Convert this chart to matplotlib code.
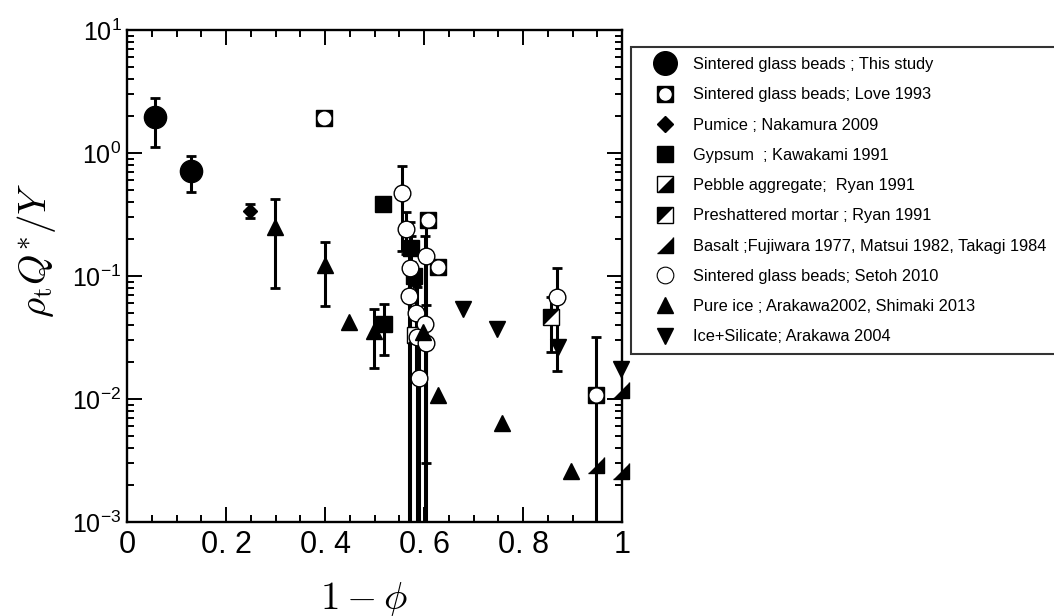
import matplotlib
matplotlib.use('Agg')
import matplotlib.pyplot as plt
import numpy as np
from matplotlib.lines import Line2D
from matplotlib.ticker import FixedLocator, FixedFormatter, MultipleLocator, LogLocator, NullFormatter

plt.rcParams['font.family'] = ['Liberation Sans', 'DejaVu Sans']

# Data (x = 1 - phi, y = rho_t Q*/Y)
study_x = [0.057, 0.129]
study_y = [1.96, 0.71]
study_e = [0.85, 0.23]

love_x = [0.398, 0.608, 0.628, 0.947]
love_y = [1.93, 0.285, 0.118, 0.0108]
love_e = [0.0, 0.0, 0.0, 0.0212]

pumice_x = [0.248]
pumice_y = [0.34]
pumice_e = [0.045]

gypsum_x = [0.517, 0.519, 0.573, 0.580]
gypsum_y = [0.385, 0.041, 0.17, 0.10]
gypsum_e = [0.0, 0.018, 0.04, 0.0]

pebble_x = [0.582]
pebble_y = [0.033]

mortar_x = [0.857]
mortar_y = [0.046]
mortar_e = [0.022]

basalt_x = [0.947, 0.998, 0.998]
basalt_y = [0.0029, 0.0118, 0.0026]

setoh_x = [0.556, 0.564, 0.572, 0.604, 0.570, 0.584, 0.602, 0.585, 0.604, 0.590, 0.869]
setoh_y = [0.47, 0.24, 0.116, 0.146, 0.069, 0.050, 0.041, 0.032, 0.0285, 0.0148, 0.067]
setoh_e = [0.31, 0.09, 0.16, 0.143, 0.10, 0.035, 0.17, 0.05, 0.03, 0.02, 0.05]

ice_x = [0.299, 0.400, 0.448, 0.499, 0.598, 0.628, 0.758, 0.897]
ice_y = [0.25, 0.123, 0.042, 0.036, 0.035, 0.0108, 0.0064, 0.0026]
ice_e = [0.17, 0.066, 0.0, 0.018, 0.0, 0.0, 0.0, 0.0]

icesil_x = [0.679, 0.747, 0.871, 0.998]
icesil_y = [0.054, 0.037, 0.0265, 0.0175]

labels = ['Sintered glass beads ; This study',
          'Sintered glass beads; Love 1993',
          'Pumice ; Nakamura 2009',
          'Gypsum  ; Kawakami 1991',
          'Pebble aggregate;  Ryan 1991',
          'Preshattered mortar ; Ryan 1991',
          'Basalt ;Fujiwara 1977, Matsui 1982, Takagi 1984',
          'Sintered glass beads; Setoh 2010',
          'Pure ice ; Arakawa2002, Shimaki 2013',
          'Ice+Silicate; Arakawa 2004']

# custom half-square markers
lr_tri = [(-1, -1), (1, -1), (1, 1)]
ul_tri = [(-1, -1), (-1, 1), (1, 1)]

fig = plt.figure(figsize=(10.54, 6.16), dpi=100)
ax = fig.add_axes([127/1054, 1 - 522/616, 495/1054, 492/616])
ax.set_yscale('log')
ax.set_xlim(0, 1)
ax.set_ylim(1e-3, 1e1)


# Error bars (clipped to the axes)
def bars(x, y, e):
    x = np.array(x)
    y = np.array(y)
    e = np.array(e)
    m = e > 0
    if m.any():
        ax.errorbar(x[m], y[m], yerr=e[m], fmt='none', ecolor='k',
                    elinewidth=2.2, capsize=3.6, capthick=2, zorder=2)


bars(study_x, study_y, study_e)
bars(love_x, love_y, love_e)
bars(pumice_x, pumice_y, pumice_e)
bars(gypsum_x, gypsum_y, gypsum_e)
bars(mortar_x, mortar_y, mortar_e)
bars(setoh_x, setoh_y, setoh_e)
bars(ice_x, ice_y, ice_e)

# Markers
kw = dict(linestyle='none', clip_on=False)
ax.plot(study_x, study_y, marker='o', ms=16, mfc='k', mec='k', zorder=3, **kw)
ax.plot(love_x, love_y, marker='s', ms=12, mfc='k', mec='k', zorder=3, **kw)
ax.plot(love_x, love_y, marker='o', ms=9, mfc='w', mec='w', zorder=3.1, **kw)
ax.plot(pumice_x, pumice_y, marker='D', ms=7, mfc='k', mec='k', zorder=3, **kw)
ax.plot(gypsum_x, gypsum_y, marker='s', ms=11, mfc='k', mec='k', zorder=3, **kw)
ax.plot(pebble_x, pebble_y, marker='s', ms=11, mfc='w', mec='k', mew=1, zorder=3, **kw)
ax.plot(pebble_x, pebble_y, marker=lr_tri, ms=11, mfc='k', mec='k', mew=0.5, zorder=3.1, **kw)
ax.plot(mortar_x, mortar_y, marker='s', ms=11, mfc='w', mec='k', mew=1, zorder=3, **kw)
ax.plot(mortar_x, mortar_y, marker=ul_tri, ms=11, mfc='k', mec='k', mew=0.5, zorder=3.1, **kw)
ax.plot(basalt_x, basalt_y, marker=lr_tri, ms=12, mfc='k', mec='k', zorder=3, **kw)
ax.plot(setoh_x, setoh_y, marker='o', ms=12, mfc='w', mec='k', mew=1, zorder=3.2, **kw)
ax.plot(ice_x, ice_y, marker='^', ms=11, mfc='k', mec='k', zorder=3.3, **kw)
ax.plot(icesil_x, icesil_y, marker='v', ms=11, mfc='k', mec='k', zorder=3.3, **kw)

# Axes styling
for s in ax.spines.values():
    s.set_linewidth(1.7)
ax.xaxis.set_major_locator(FixedLocator([0, 0.2, 0.4, 0.6, 0.8, 1.0]))
ax.xaxis.set_major_formatter(FixedFormatter(['0', '0. 2', '0. 4', '0. 6', '0. 8', '1']))
ax.xaxis.set_minor_locator(MultipleLocator(0.05))
ax.yaxis.set_major_locator(LogLocator(base=10, numticks=10))
ax.yaxis.set_minor_locator(LogLocator(base=10, subs=np.arange(2, 10), numticks=20))
ax.yaxis.set_minor_formatter(NullFormatter())
ax.tick_params(which='both', direction='in', top=True, right=True, width=1.4)
ax.tick_params(which='major', length=11)
ax.tick_params(which='minor', length=5)
ax.tick_params(axis='x', which='major', pad=6)
ax.tick_params(axis='y', which='major', pad=4)
for t in ax.get_xticklabels():
    t.set_fontsize(22)
for t in ax.get_yticklabels():
    t.set_fontsize(18)

ax.set_ylabel(r'$\rho_{\mathrm{t}}Q^{*}/Y$', fontsize=28, math_fontfamily='cm')
ax.yaxis.set_label_coords(-0.139, 0.553)
ax.set_xlabel(r'$1-\phi$', fontsize=28, math_fontfamily='cm')
ax.xaxis.set_label_coords(0.479, -0.118)

# Legend
handles = [
    Line2D([], [], ls='none', marker='o', ms=17, mfc='k', mec='k'),
    (Line2D([], [], ls='none', marker='s', ms=11, mfc='k', mec='k'),
     Line2D([], [], ls='none', marker='o', ms=8, mfc='w', mec='w')),
    Line2D([], [], ls='none', marker='D', ms=8, mfc='k', mec='k'),
    Line2D([], [], ls='none', marker='s', ms=12, mfc='k', mec='k'),
    (Line2D([], [], ls='none', marker='s', ms=11, mfc='w', mec='k', mew=1),
     Line2D([], [], ls='none', marker=lr_tri, ms=11, mfc='k', mec='k', mew=0.5)),
    (Line2D([], [], ls='none', marker='s', ms=11, mfc='w', mec='k', mew=1),
     Line2D([], [], ls='none', marker=ul_tri, ms=11, mfc='k', mec='k', mew=0.5)),
    Line2D([], [], ls='none', marker=lr_tri, ms=12, mfc='k', mec='k'),
    Line2D([], [], ls='none', marker='o', ms=12, mfc='w', mec='k', mew=0.8),
    Line2D([], [], ls='none', marker='^', ms=11, mfc='k', mec='k'),
    Line2D([], [], ls='none', marker='v', ms=11, mfc='k', mec='k'),
]
leg = fig.legend(handles, labels, loc='upper left',
                 bbox_to_anchor=(631/1054, 1 - 47/616), borderaxespad=0,
                 fontsize=11.8, frameon=True, fancybox=False, edgecolor='k',
                 numpoints=1, handlelength=2.85, handletextpad=0.33,
                 borderpad=0.62, labelspacing=0.93)
leg.get_frame().set_linewidth(1.5)

fig.savefig('out.png', dpi=100)
